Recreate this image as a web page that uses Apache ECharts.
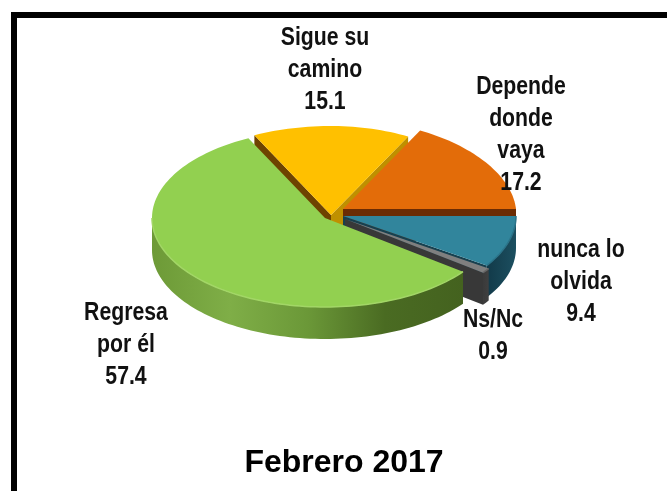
<!DOCTYPE html>
<html>
<head>
<meta charset="utf-8">
<title>Febrero 2017</title>
<script src="https://cdn.jsdelivr.net/npm/echarts@6/dist/echarts.min.js"></script>
<style>
html, body { margin: 0; padding: 0; background: #fff; }
#chart { width: 667px; height: 491px; }
</style>
</head>
<body>
<div id="chart"></div>
<script>
// data, clockwise from 3 o'clock
const categories = ['nunca lo\nolvida', 'Ns/Nc', 'Regresa\npor él', 'Sigue su\ncamino', 'Depende\ndonde\nvaya']
const values = [9.4, 0.9, 57.4, 15.1, 17.2]
const chartTitle = 'Febrero 2017'

// look of the slices
const topColors = ['#31859c', '#7f7f7f', '#92d050', '#ffc000', '#e36c09']
const sideColors = [
  ['#123a49', '#1c4f60'],
  ['#3a3a3a', '#404040'],
  ['#6d9a37', '#7fae47', '#6b9838', '#4a6b22', '#44621f'],
  ['#7f6000', '#7f6000'],
  ['#7a3505', '#7a3505']
]
const startFaceColors = ['#17404f', '#333', '#4a6b22', '#6e4300', '#7a3505']
const endFaceColors = ['#17404f', '#383838', '#4a6b22', '#bf9000', '#6b2c04']
const edgeColors = ['#2a7389', '#666', '#a2d666', '#ffc000', '#e36c09']

// layout
const rx = 173
const ry = 89
const depth = 32
const backSqueeze = 0.06 // far right of the disc looks a bit narrower
const apexes = [[343, 216], [345, 219], [325, 218], [331, 215], [343, 209]]
const drawOrder = [2, 3, 4, 0, 1] // yellow and orange go behind
const labelSpots = [[581, 282], [493, 336], [126, 345], [325, 70], [521, 135]]

const total = values.reduce((a, b) => a + b, 0)

function rimPoint(c, t, dy) {
  const sin = Math.sin(t)
  const cos = Math.cos(t)
  const squeeze = cos > 0 && sin < 0 ? 1 + backSqueeze * sin : 1
  return [c[0] + rx * squeeze * cos, c[1] + ry * sin + dy]
}

function arcPoints(c, from, to, dy) {
  const n = Math.max(2, Math.ceil((to - from) / 0.03))
  const pts = []
  for (let i = 0; i <= n; i++) {
    pts.push(rimPoint(c, from + (to - from) * i / n, dy))
  }
  return pts
}

function radialFace(c, t, fill, z2) {
  const tip = rimPoint(c, t, 0)
  return {
    type: 'polygon',
    z2,
    shape: { points: [c, tip, [tip[0], tip[1] + depth], [c[0], c[1] + depth]] },
    style: { fill }
  }
}

function renderSlice(params, api) {
  const i = api.value(0)
  const before = values.slice(0, i).reduce((a, b) => a + b, 0)
  const from = before / total * Math.PI * 2
  const to = (before + api.value(1)) / total * Math.PI * 2
  const c = apexes[i]
  const base = drawOrder[i] * 10
  const children = []

  if (Math.cos(from) < 0) children.push(radialFace(c, from, startFaceColors[i], base + 1))
  if (Math.cos(to) > 0) children.push(radialFace(c, to, endFaceColors[i], base + 1))

  // outer wall, only the part facing the viewer
  const wallTo = Math.min(to, Math.PI)
  if (from < wallTo) {
    const upper = arcPoints(c, from, wallTo, 0)
    const lower = arcPoints(c, from, wallTo, depth).reverse()
    const stops = sideColors[i]
    children.push({
      type: 'polygon',
      z2: base + 2,
      shape: { points: upper.concat(lower) },
      style: {
        fill: new echarts.graphic.LinearGradient(1, 0, 0, 0,
          stops.map((color, k) => ({ offset: 1 - k / (stops.length - 1), color })))
      }
    })
    children.push({
      type: 'polyline',
      z2: base + 4,
      shape: { points: upper },
      style: { fill: null, stroke: edgeColors[i], lineWidth: 1.5 }
    })
  }

  children.push({
    type: 'polygon',
    z2: base + 3,
    shape: { points: [c].concat(arcPoints(c, from, to, 0)) },
    style: { fill: topColors[i] }
  })

  children.push({
    type: 'text',
    z2: 100,
    x: labelSpots[i][0],
    y: labelSpots[i][1],
    scaleX: 0.85,
    style: {
      text: categories[i] + '\n' + api.value(1).toFixed(1),
      fontFamily: '"Liberation Sans", Arial, sans-serif',
      fontWeight: 'bold',
      fontSize: 25,
      lineHeight: 32,
      align: 'center',
      verticalAlign: 'middle',
      fill: '#111'
    }
  })

  return { type: 'group', children }
}

const chart = echarts.init(document.getElementById('chart'), null, { renderer: 'canvas' })
chart.setOption({
  animation: false,
  backgroundColor: '#fff',
  title: {
    text: chartTitle,
    left: 339,
    top: 442,
    textAlign: 'center',
    textStyle: {
      fontFamily: '"Liberation Sans", Arial, sans-serif',
      fontWeight: 'bold',
      fontSize: 32,
      color: '#000'
    }
  },
  graphic: [
    { type: 'rect', shape: { x: 11, y: 12, width: 6, height: 479 }, style: { fill: '#000' } },
    { type: 'rect', shape: { x: 11, y: 12, width: 656, height: 6 }, style: { fill: '#000' } }
  ],
  series: [
    {
      type: 'custom',
      coordinateSystem: 'none',
      renderItem: renderSlice,
      data: values.map((v, i) => [i, v])
    }
  ]
})
</script>
</body>
</html>
